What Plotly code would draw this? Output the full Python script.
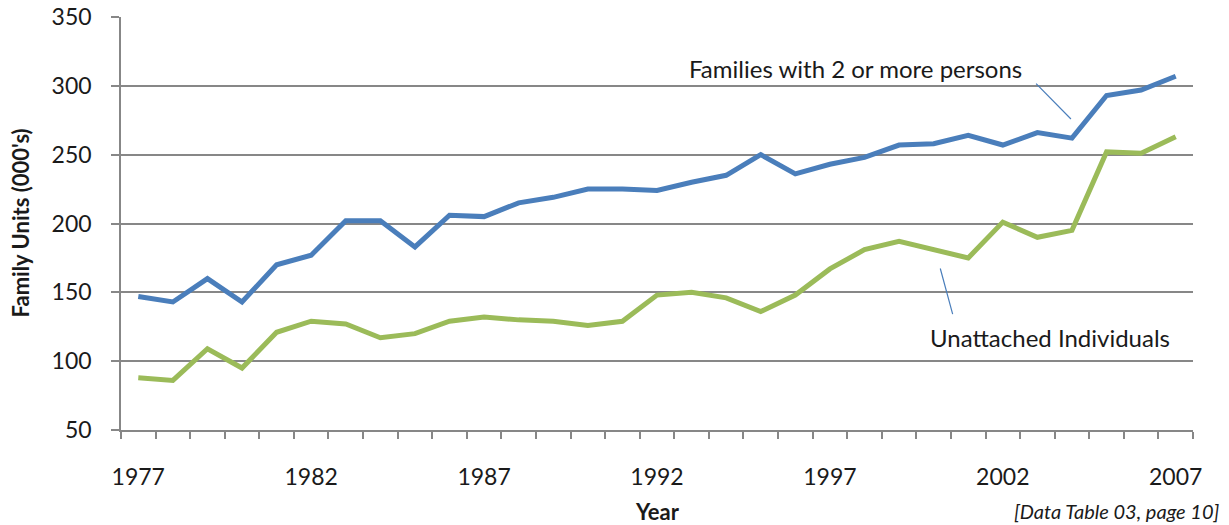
import plotly.graph_objects as go

years = list(range(1977, 2008))
families = [147, 143, 160, 143, 170, 177, 202, 202, 183, 206, 205, 215, 219, 225, 225, 224,
            230, 235, 250, 236, 243, 248, 257, 258, 264, 257, 266, 262, 293, 297, 307]
unattached = [88, 86, 109, 95, 121, 129, 127, 117, 120, 129, 132, 130, 129, 126, 129, 148,
              150, 146, 136, 148, 167, 181, 187, 181, 175, 201, 190, 195, 252, 251, 263]
label_years = [1977, 1982, 1987, 1992, 1997, 2002, 2007]
y_ticks = [50, 100, 150, 200, 250, 300, 350]

FONT = "Lato"
GRID = "#878787"
TXT = "#1a1a1a"

fig = go.Figure()
fig.add_trace(go.Scatter(x=years, y=families, mode="lines", name="Families with 2 or more persons",
                         line=dict(color="#4A7EBB", width=5)))
fig.add_trace(go.Scatter(x=years, y=unattached, mode="lines", name="Unattached Individuals",
                         line=dict(color="#9BBB59", width=5)))

boundaries = [y - 0.5 for y in years] + [years[-1] + 0.5]

fig.update_layout(
    width=1229, height=525,
    margin=dict(l=121, r=36, t=17, b=95, autoexpand=False),
    plot_bgcolor="white", paper_bgcolor="white",
    showlegend=False,
    font=dict(family=FONT, size=23, color=TXT),
    xaxis=dict(
        range=[1976.5, 2007.5], tickvals=label_years, ticktext=[str(y) for y in label_years],
        ticks="", showgrid=False, zeroline=False, automargin=False,
        showline=True, linecolor=GRID, linewidth=1.5,
        tickfont=dict(family=FONT, size=23, color=TXT), ticklabelstandoff=26,
        minor=dict(tickvals=boundaries, ticks="outside", ticklen=7, tickcolor=GRID, tickwidth=1.5, showgrid=False),
    ),
    yaxis=dict(
        range=[50, 350], tickvals=y_ticks, ticks="outside", ticklen=8, tickcolor=GRID, tickwidth=1.5,
        showgrid=True, gridcolor=GRID, gridwidth=1.5, zeroline=False, automargin=False,
        showline=True, linecolor=GRID, linewidth=1.5,
        tickfont=dict(family=FONT, size=23, color=TXT), ticklabelstandoff=15,
    ),
)

# axis titles
fig.add_annotation(x=0, y=0.5, xref="paper", yref="paper", xshift=-101, xanchor="center", yanchor="middle",
                   textangle=-90, text="<b>Family Units (000's)</b>", showarrow=False,
                   font=dict(family=FONT, size=22, color=TXT))
fig.add_annotation(x=0.5, y=0, xref="paper", yref="paper", yshift=-81, xanchor="center", yanchor="middle",
                   text="<b>Year</b>", showarrow=False,
                   font=dict(family=FONT, size=22, color=TXT))
fig.add_annotation(x=1, y=0, xref="paper", yref="paper", xanchor="right", yanchor="middle",
                   xshift=29, yshift=-81,
                   text="<i>[Data Table 03, page 10]</i>", showarrow=False,
                   font=dict(family=FONT, size=20, color=TXT))

# series labels with leader lines
fig.add_annotation(x=1997.75, y=312.9, xref="x", yref="y", text="Families with 2 or more persons",
                   showarrow=False, font=dict(family=FONT, size=24, color=TXT))
fig.add_annotation(x=2003.36, y=117.5, xref="x", yref="y", text="Unattached Individuals",
                   showarrow=False, font=dict(family=FONT, size=24, color=TXT))
fig.add_annotation(x=2003.97, y=275.9, ax=2002.92, ay=302.7, xref="x", yref="y", axref="x", ayref="y",
                   text="", showarrow=True, arrowhead=0, arrowwidth=1.2, arrowcolor="#4A7EBB")
fig.add_annotation(x=2000.55, y=134.2, ax=2000.18, ay=168.4, xref="x", yref="y", axref="x", ayref="y",
                   text="", showarrow=True, arrowhead=0, arrowwidth=1.2, arrowcolor="#4A7EBB")

fig.write_html("out.html", config={"displayModeBar": False},
               post_script="document.body.style.margin='0';document.body.style.overflow='hidden';")
